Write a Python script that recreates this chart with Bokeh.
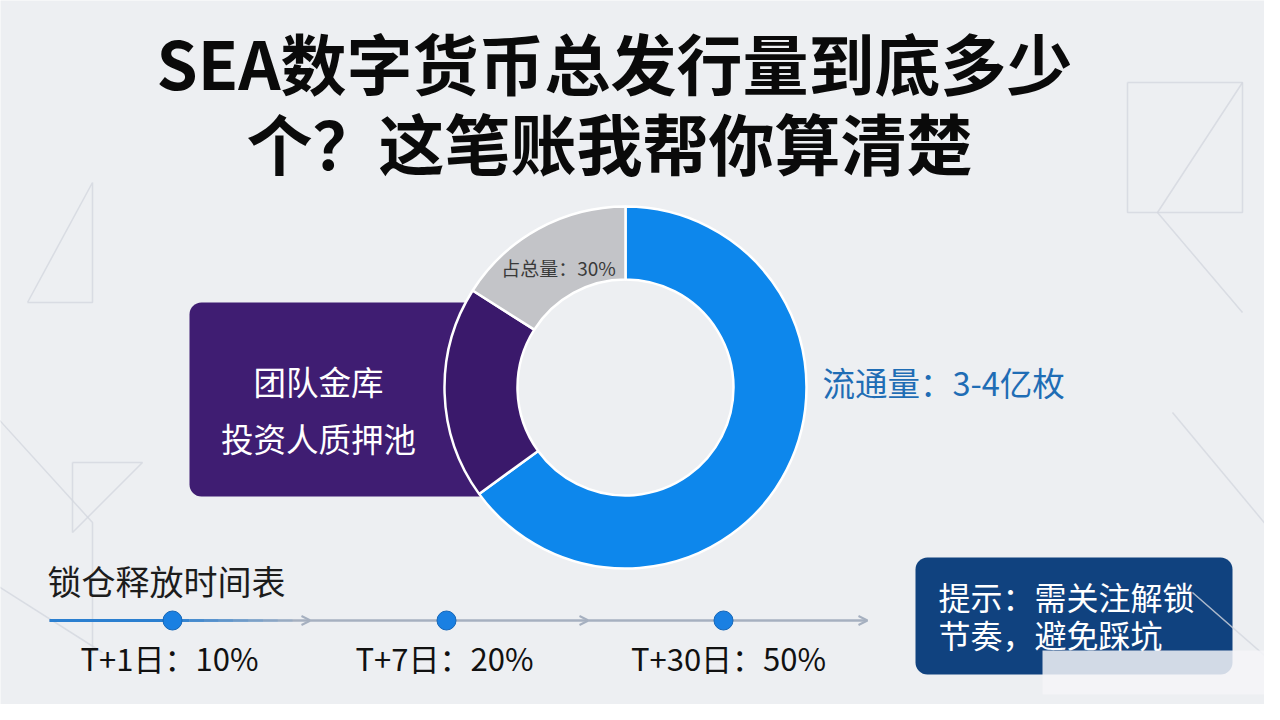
from bokeh.plotting import figure
from bokeh.models import Range1d, BoxAnnotation, Arrow, OpenHead, ColumnDataSource
from bokeh.core.properties import value
from bokeh.embed import file_html
from bokeh.resources import INLINE
import numpy as np

# ---------------- data ----------------
title_lines = ["SEA数字货币总发行量到底多少", "个？这笔账我帮你算清楚"]
segments = ["流通量", "团队金库/投资人质押池", "其他"]
shares = [65, 19, 16]
seg_colors = ["#0d87ec", "#3a196b", "#c3c4c8"]
circ_label = "流通量：3-4亿枚"
box_lines = ["团队金库", "投资人质押池"]
gray_label = "占总量：30%"
timeline_title = "锁仓释放时间表"
release_days = ["T+1日", "T+7日", "T+30日"]
release_pct = [10, 20, 50]
tip_lines = ["提示：需关注解锁", "节奏，避免踩坑"]

FONT = value("Noto Sans CJK SC")
BG = "#edeff2"

p = figure(width=1264, height=704, x_range=Range1d(8, 1272), y_range=Range1d(8, 712),
           output_backend="svg", toolbar_location=None, min_border=0,
           x_axis_type=None, y_axis_type=None)
p.xgrid.visible = False
p.ygrid.visible = False
p.outline_line_color = None
p.background_fill_color = BG
p.border_fill_color = BG

# faint background decoration
deco_x = [[35, 100, 100, 35], [0, 100, 100], [0, 110], [1135, 1250, 1250, 1135, 1135], [1250, 1165, 1250],
          [1180, 1280], [1200, 1280, 1280], [80, 150, 80, 80]]
deco_y = [[410, 530, 410, 410], [300, 190, 60], [130, 60], [630, 630, 500, 500, 630], [630, 500, 400],
          [300, 180], [120, 50, 200], [250, 250, 180, 250]]
p.multi_line(deco_x, deco_y, line_color="#d3d7de", line_width=1.5, line_alpha=0.8)

# purple label box behind donut
p.add_layout(BoxAnnotation(left=197, right=600, top=410, bottom=216, fill_color="#3f1d72",
                           fill_alpha=1, line_color=None, border_radius=12, level="underlay"))

# donut
cx, cy, R, r = 633, 325, 181, 108
p.circle(x=[cx], y=[cy], radius=r, fill_color=BG, line_color=None)
fr = np.array(shares, dtype=float) / sum(shares)
cum = np.concatenate([[0], np.cumsum(fr)])
start = [np.pi / 2 - cum[i + 1] * 2 * np.pi for i in range(len(shares))]
end = [np.pi / 2 - cum[i] * 2 * np.pi for i in range(len(shares))]
src = ColumnDataSource(dict(start=start, end=end, color=seg_colors, name=segments))
p.annular_wedge(x=cx, y=cy, inner_radius=r, outer_radius=R, start_angle="start", end_angle="end",
                direction="anticlock", fill_color="color", line_color="white", line_width=2.5, source=src)

# donut labels
p.text(x=[566], y=[445], text=[gray_label], text_font=FONT, text_font_size="19px",
       text_color="#3a3a3a", text_align="center", text_baseline="middle")
p.text(x=[830], y=[331], text=[circ_label], text_font=FONT, text_font_size="32.5px",
       text_color="#1f6db5", text_align="left", text_baseline="middle")
p.text(x=[326, 326], y=[332, 275], text=box_lines, text_font=FONT, text_font_size="32.5px",
       text_color="white", text_align="center", text_baseline="middle")

# title
p.text(x=[622, 617], y=[652, 572], text=title_lines, text_font=FONT, text_font_size="66px",
       text_font_style="bold", text_color="#0a0a0a", text_align="center", text_baseline="middle")

# timeline
p.text(x=[55], y=[132], text=[timeline_title], text_font=FONT, text_font_size="34px",
       text_color="#1c1c1c", text_align="left", text_baseline="middle")
ty = 92
arrow_x = [(57, 318), (318, 596), (596, 875)]
for xs, xe in arrow_x:
    p.add_layout(Arrow(x_start=xs, y_start=ty, x_end=xe, y_end=ty, line_color="#a6b0c0", line_width=2.5,
                       end=OpenHead(size=9, line_color="#a6b0c0", line_width=2), level="underlay"))
p.segment(x0=[57], y0=[ty], x1=[182], y1=[ty], line_color="#2b7fd0", line_width=3)
fade = np.linspace(182, 300, 9)
p.segment(x0=fade[:-1], y0=[ty] * 8, x1=fade[1:], y1=[ty] * 8, line_color="#2b7fd0", line_width=3,
          line_alpha=list(np.linspace(0.9, 0.1, 8)))
dot_x = [180, 454, 731]
p.scatter(x=dot_x, y=[ty] * 3, size=19, fill_color="#1a80e2", line_color="#1466b8", line_width=1)
labels = [f"{d}：{v}%" for d, v in zip(release_days, release_pct)]
p.text(x=[177, 452, 736], y=[55] * 3, text=labels, text_font=FONT, text_font_size="31px",
       text_color="#111111", text_align="center", text_baseline="middle")

# tip box
p.add_layout(BoxAnnotation(left=923, right=1240, top=155, bottom=38, fill_color="#10427f",
                           fill_alpha=1, line_color=None, border_radius=12, level="underlay"))
p.text(x=[946, 946], y=[117, 79], text=tip_lines, text_font=FONT, text_font_size="32px",
       text_color="white", text_align="left", text_baseline="middle")
# watermark patch
p.add_layout(BoxAnnotation(left=1050, right=1272, top=62, bottom=18, fill_color="#f4f5f8",
                           fill_alpha=0.85, line_color=None, level="overlay"))

open("out.html", "w").write(file_html(p, INLINE))
